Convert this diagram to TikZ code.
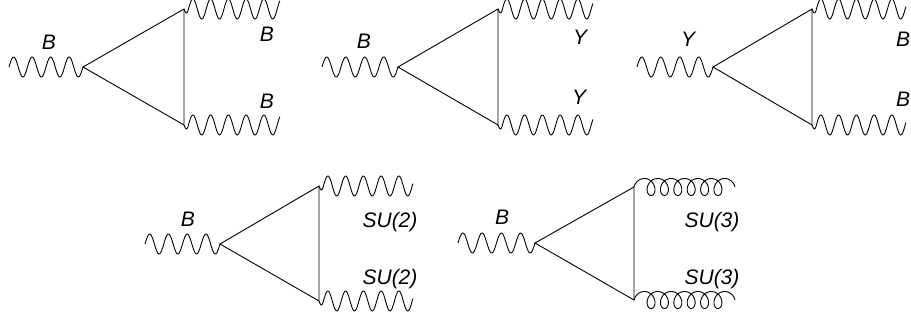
\documentclass[tikz,border=0pt]{standalone}
\usepackage{fontspec}
\setmainfont{Liberation Sans}
\usetikzlibrary{calc}
\begin{document}
\begin{tikzpicture}[x=1pt,y=-1pt,
  fline/.style={line width=0.9pt},
  inphoton/.style={line width=0.9pt, to path={let \p1=(\tikztostart), \p2=(\tikztotarget) in
      plot[variable=\t, domain=0:1, samples=121] ({\x1+(\x2-\x1)*\t}, {\y1+10pt*sin(1440*\t)})}},
  outphoton/.style={line width=0.9pt, to path={let \p1=(\tikztostart), \p2=(\tikztotarget) in
      plot[variable=\t, domain=0:1, samples=161] ({\x1+(\x2-\x1)*\t},
        {\y1+10pt*min(1,((\x2-\x1)/4pt)*\t)*sin(-90+((\x2-\x1)/17.75pt)*360*\t)})}},
  gluon/.style={line width=0.9pt, to path={let \p1=(\tikztostart), \p2=(\tikztotarget) in
      plot[variable=\t, domain=0:1, samples=261] ({\x1+((\x2-\x1)-14pt)*\t+7pt*(1+sin(-90+2340*\t))},
        {\y1+8.5pt*cos(-90+2340*\t)})}},
  lbl/.style={font=\fontsize{21}{25}\selectfont\itshape, inner sep=0pt, anchor=base}]
\useasboundingbox (0,0) rectangle (911,321);
\clip (0,0) rectangle (911,321);

% diagram 1: B -> B B
\coordinate (a-in) at (9,67);
\coordinate (a-v) at (83,67);
\coordinate (a-t) at (184,9);
\coordinate (a-b) at (184,125);
\coordinate (a-to) at (280,9);
\coordinate (a-bo) at (280,125);
\draw[fline] (a-v) -- (a-t) -- (a-b) -- cycle;
\draw[inphoton] (a-in) to (a-v);
\draw[outphoton] (a-t) to (a-to);
\draw[outphoton] (a-b) to (a-bo);
\node[lbl] (a-l1) at (49,49.5) {B};
\node[lbl] (a-l2) at (267,42) {B};
\node[lbl] (a-l3) at (267,108) {B};

% diagram 2: B -> Y Y
\coordinate (b-in) at (322,67);
\coordinate (b-v) at (398,67);
\coordinate (b-t) at (498,9);
\coordinate (b-b) at (498,125);
\coordinate (b-to) at (593,9);
\coordinate (b-bo) at (593,125);
\draw[fline] (b-v) -- (b-t) -- (b-b) -- cycle;
\draw[inphoton] (b-in) to (b-v);
\draw[outphoton] (b-t) to (b-to);
\draw[outphoton] (b-b) to (b-bo);
\node[lbl] (b-l1) at (364,48.5) {B};
\node[lbl] (b-l2) at (580,45) {Y};
\node[lbl] (b-l3) at (579,105) {Y};

% diagram 3: Y -> B B
\coordinate (c-in) at (637,67);
\coordinate (c-v) at (713,67);
\coordinate (c-t) at (812,9);
\coordinate (c-b) at (812,125);
\coordinate (c-to) at (906,9);
\coordinate (c-bo) at (906,125);
\draw[fline] (c-v) -- (c-t) -- (c-b) -- cycle;
\draw[inphoton] (c-in) to (c-v);
\draw[outphoton] (c-t) to (c-to);
\draw[outphoton] (c-b) to (c-bo);
\node[lbl] (c-l1) at (688,46.5) {Y};
\node[lbl] (c-l2) at (903,46.5) {B};
\node[lbl] (c-l3) at (903,106.5) {B};

% diagram 4: B -> SU(2) SU(2)
\coordinate (d-in) at (145,244);
\coordinate (d-v) at (220,244);
\coordinate (d-t) at (319,186);
\coordinate (d-b) at (319,301);
\coordinate (d-to) at (413,186);
\coordinate (d-bo) at (413,301);
\draw[fline] (d-v) -- (d-t) -- (d-b) -- cycle;
\draw[inphoton] (d-in) to (d-v);
\draw[outphoton] (d-t) to (d-to);
\draw[outphoton] (d-b) to (d-bo);
\node[lbl] (d-l1) at (188,226) {B};
\node[lbl] (d-l2) at (390,227) {SU(2)};
\node[lbl] (d-l3) at (390,284) {SU(2)};

% diagram 5: B -> SU(3) SU(3)
\coordinate (e-in) at (458,243);
\coordinate (e-v) at (535,243);
\coordinate (e-t) at (634,187);
\coordinate (e-b) at (634,300);
\coordinate (e-to) at (735,187);
\coordinate (e-bo) at (735,300);
\draw[fline] (e-v) -- (e-t) -- (e-b) -- cycle;
\draw[inphoton] (e-in) to (e-v);
\draw[gluon] (e-t) to (e-to);
\draw[gluon] (e-b) to (e-bo);
\node[lbl] (e-l1) at (502,224) {B};
\node[lbl] (e-l2) at (712,227) {SU(3)};
\node[lbl] (e-l3) at (712,284) {SU(3)};
\end{tikzpicture}
\end{document}
